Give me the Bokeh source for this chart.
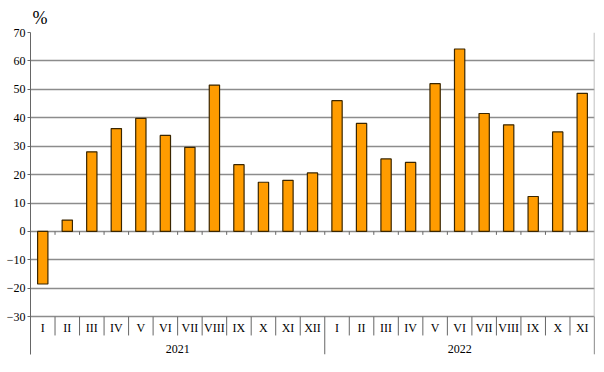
from bokeh.plotting import figure
from bokeh.models import Range1d, FixedTicker, ColumnDataSource
from bokeh.core.properties import value
from bokeh.embed import file_html
from bokeh.resources import INLINE

months = ["I", "II", "III", "IV", "V", "VI", "VII", "VIII", "IX", "X", "XI", "XII",
          "I", "II", "III", "IV", "V", "VI", "VII", "VIII", "IX", "X", "XI"]
values = [-18.5, 4.0, 28.0, 36.2, 39.8, 33.8, 29.6, 51.5, 23.5, 17.3, 18.0, 20.6,
          46.0, 38.0, 25.5, 24.3, 52.0, 64.2, 41.5, 37.5, 12.3, 35.0, 48.6]
years = ["2021", "2022"]
year_counts = [12, 11]
y_ticks = [-30, -20, -10, 0, 10, 20, 30, 40, 50, 60, 70]

FONT = "Liberation Serif"
n = len(months)
xs = list(range(n))

p = figure(width=596, height=356, output_backend="svg", toolbar_location=None,
           x_range=Range1d(-0.5, n - 0.5), y_range=Range1d(-43.3, 70),
           x_axis_location=None, min_border_left=30, min_border_right=2,
           min_border_top=30, min_border_bottom=2)
p.outline_line_color = None
p.background_fill_color = "white"

p.title.text = "%"
p.title.text_font = FONT
p.title.text_font_size = "18px"
p.title.text_font_style = "normal"
p.title.text_color = "#000000"
p.title.align = "left"
p.title.offset = 2
p.title.standoff = 10

ax = p.yaxis[0]
ax.ticker = FixedTicker(ticks=y_ticks)
ax.major_label_text_font = FONT
ax.major_label_text_font_size = "12px"
ax.major_label_text_color = "#000000"
ax.major_label_standoff = 2
ax.major_tick_in = 0
ax.major_tick_out = 3
ax.minor_tick_line_color = None
ax.axis_line_color = "#666666"
ax.major_tick_line_color = "#666666"

p.ygrid.ticker = FixedTicker(ticks=y_ticks)
p.ygrid.grid_line_color = "#8c8c8c"
p.ygrid.grid_line_width = 1.5
p.xgrid.grid_line_color = None

# right border
p.segment(x0=[n - 0.5], y0=[y_ticks[0] - 13.3], x1=[n - 0.5], y1=[y_ticks[-1]],
          line_color="#aaaaaa", line_width=1.5)

src = ColumnDataSource(dict(x=xs, top=values, lab=months))
p.vbar(x="x", top="top", bottom=0, width=0.42, source=src,
       fill_color="#FF9C00", line_color="#3a2600", line_width=1.2)

# small ticks at the zero line and ticks below the -30 line
bounds = [i + 0.5 for i in range(n - 1)]
p.segment(x0=bounds, y0=[0] * len(bounds), x1=bounds, y1=[-1.2] * len(bounds),
          line_color="#666666", line_width=1)
short = [b for b in bounds if b != year_counts[0] - 0.5]
p.segment(x0=short, y0=[-30] * len(short), x1=short, y1=[-36.6] * len(short),
          line_color="#666666", line_width=1)
seps = [year_counts[0] - 0.5, n - 0.5]
p.segment(x0=seps, y0=[-30] * len(seps), x1=seps, y1=[-43.3] * len(seps),
          line_color="#666666", line_width=1)

p.text(x="x", y=-34.0, text="lab", source=src, text_align="center",
       text_baseline="middle", text_font=value(FONT), text_font_size="12px",
       text_color="#000000")

year_x = [(year_counts[0] - 1) / 2, year_counts[0] + (year_counts[1] - 1) / 2]
p.text(x=year_x, y=[-41.4, -41.4], text=years, text_align="center",
       text_baseline="middle", text_font=value(FONT), text_font_size="12px",
       text_color="#000000")

open("out.html", "w").write(file_html(p, INLINE))
